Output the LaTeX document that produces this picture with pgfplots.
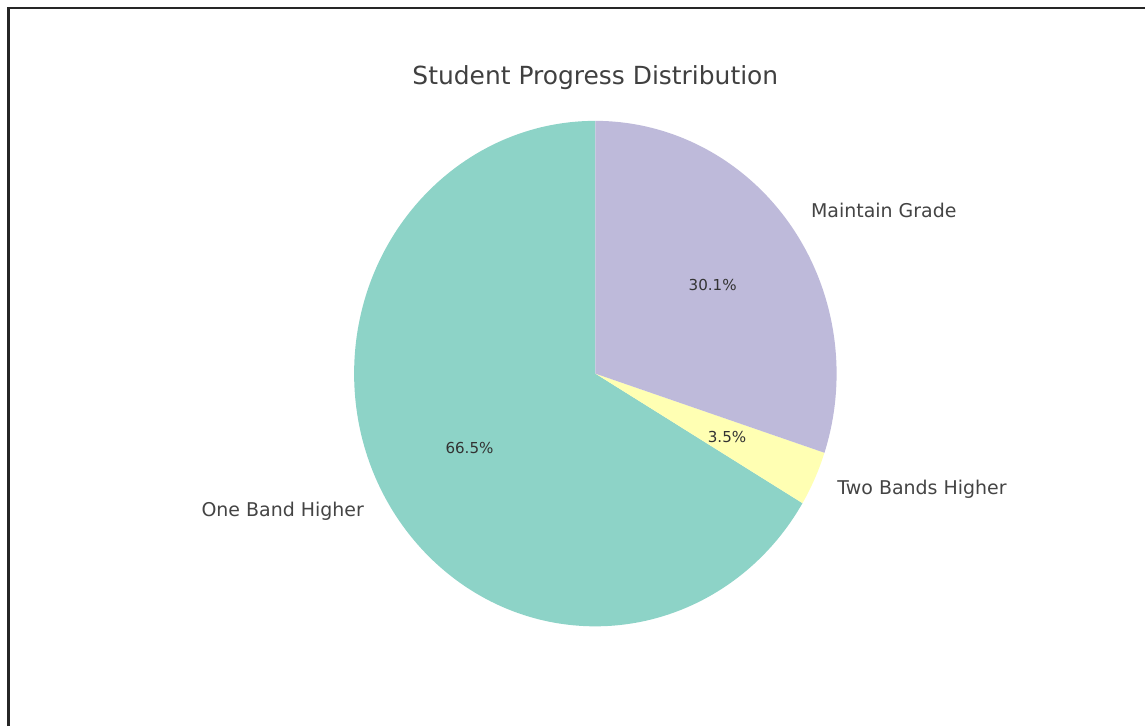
\documentclass[border=0pt]{standalone}
\usepackage{pgfplots}
\pgfplotsset{compat=1.18}
\usepackage{fontspec}
\setmainfont{DejaVu Sans}
\definecolor{cOne}{HTML}{8DD3C7}
\definecolor{cTwo}{HTML}{FFFFB3}
\definecolor{cMain}{HTML}{BEBADA}
\definecolor{txt}{HTML}{444444}
% slice values (percent)
\def\vOne{66.5}\def\vTwo{3.5}\def\vMain{30.1}
\pgfmathsetmacro{\tot}{\vOne+\vTwo+\vMain}
\pgfmathsetmacro{\aA}{90}
\pgfmathsetmacro{\aB}{\aA+360*(\vOne/\tot)}
\pgfmathsetmacro{\aC}{\aB+360*(\vTwo/\tot)}
\pgfmathsetmacro{\aD}{\aC+360*(\vMain/\tot)}
\pgfmathsetmacro{\mOne}{(\aA+\aB)/2}
\pgfmathsetmacro{\mTwo}{(\aB+\aC)/2}
\pgfmathsetmacro{\mMain}{(\aC+\aD)/2}
\def\cx{5.96}\def\cy{3.53}\def\rx{2.415}\def\ry{2.53}
\begin{document}
\begin{tikzpicture}
\begin{axis}[x=1cm,y=1cm,xmin=0,xmax=11.46,ymin=0,ymax=7.27,hide axis,clip=false,anchor=origin,at={(0,0)}]
\path (axis cs:0,0) rectangle (axis cs:11.46,7.27);
\draw[black!85,line width=0.7pt] (axis cs:0.085,0) -- (axis cs:0.085,7.19) -- (axis cs:11.46,7.19);
\fill[cOne] (axis cs:\cx,\cy) -- (axis cs:{\cx+\rx*cos(\aA)},{\cy+\ry*sin(\aA)}) arc[start angle=\aA,end angle=\aB,x radius=\rx cm,y radius=\ry cm] -- cycle;
\fill[cTwo] (axis cs:\cx,\cy) -- (axis cs:{\cx+\rx*cos(\aB)},{\cy+\ry*sin(\aB)}) arc[start angle=\aB,end angle=\aC,x radius=\rx cm,y radius=\ry cm] -- cycle;
\fill[cMain] (axis cs:\cx,\cy) -- (axis cs:{\cx+\rx*cos(\aC)},{\cy+\ry*sin(\aC)}) arc[start angle=\aC,end angle=\aD,x radius=\rx cm,y radius=\ry cm] -- cycle;
% labels
\node[anchor=east,text=txt,font=\fontsize{5.4}{6}\selectfont,inner sep=0pt] at (axis cs:{\cx+1.1*\rx*cos(\mOne)},{\cy+1.1*\ry*sin(\mOne)}) {One Band Higher};
\node[anchor=west,text=txt,font=\fontsize{5.4}{6}\selectfont,inner sep=0pt] at (axis cs:{\cx+1.1*\rx*cos(\mTwo)},{\cy+1.1*\ry*sin(\mTwo)}) {Two Bands Higher};
\node[anchor=west,text=txt,font=\fontsize{5.4}{6}\selectfont,inner sep=0pt] at (axis cs:{\cx+1.1*\rx*cos(\mMain)},{\cy+1.1*\ry*sin(\mMain)}) {Maintain Grade};
% percentages
\node[text=black!80,font=\fontsize{4.3}{5}\selectfont,inner sep=0pt] at (axis cs:{\cx+0.6*\rx*cos(\mOne)},{\cy+0.6*\ry*sin(\mOne)}) {66.5\%};
\node[text=black!80,font=\fontsize{4.3}{5}\selectfont,inner sep=0pt] at (axis cs:{\cx+0.6*\rx*cos(\mTwo)},{\cy+0.6*\ry*sin(\mTwo)}) {3.5\%};
\node[text=black!80,font=\fontsize{4.3}{5}\selectfont,inner sep=0pt] at (axis cs:{\cx+0.6*\rx*cos(\mMain)},{\cy+0.6*\ry*sin(\mMain)}) {30.1\%};
% title
\node[text=black!75,font=\fontsize{7.1}{8}\selectfont,inner sep=0pt] at (axis cs:5.96,6.49) {Student Progress Distribution};
\end{axis}
\end{tikzpicture}
\end{document}
